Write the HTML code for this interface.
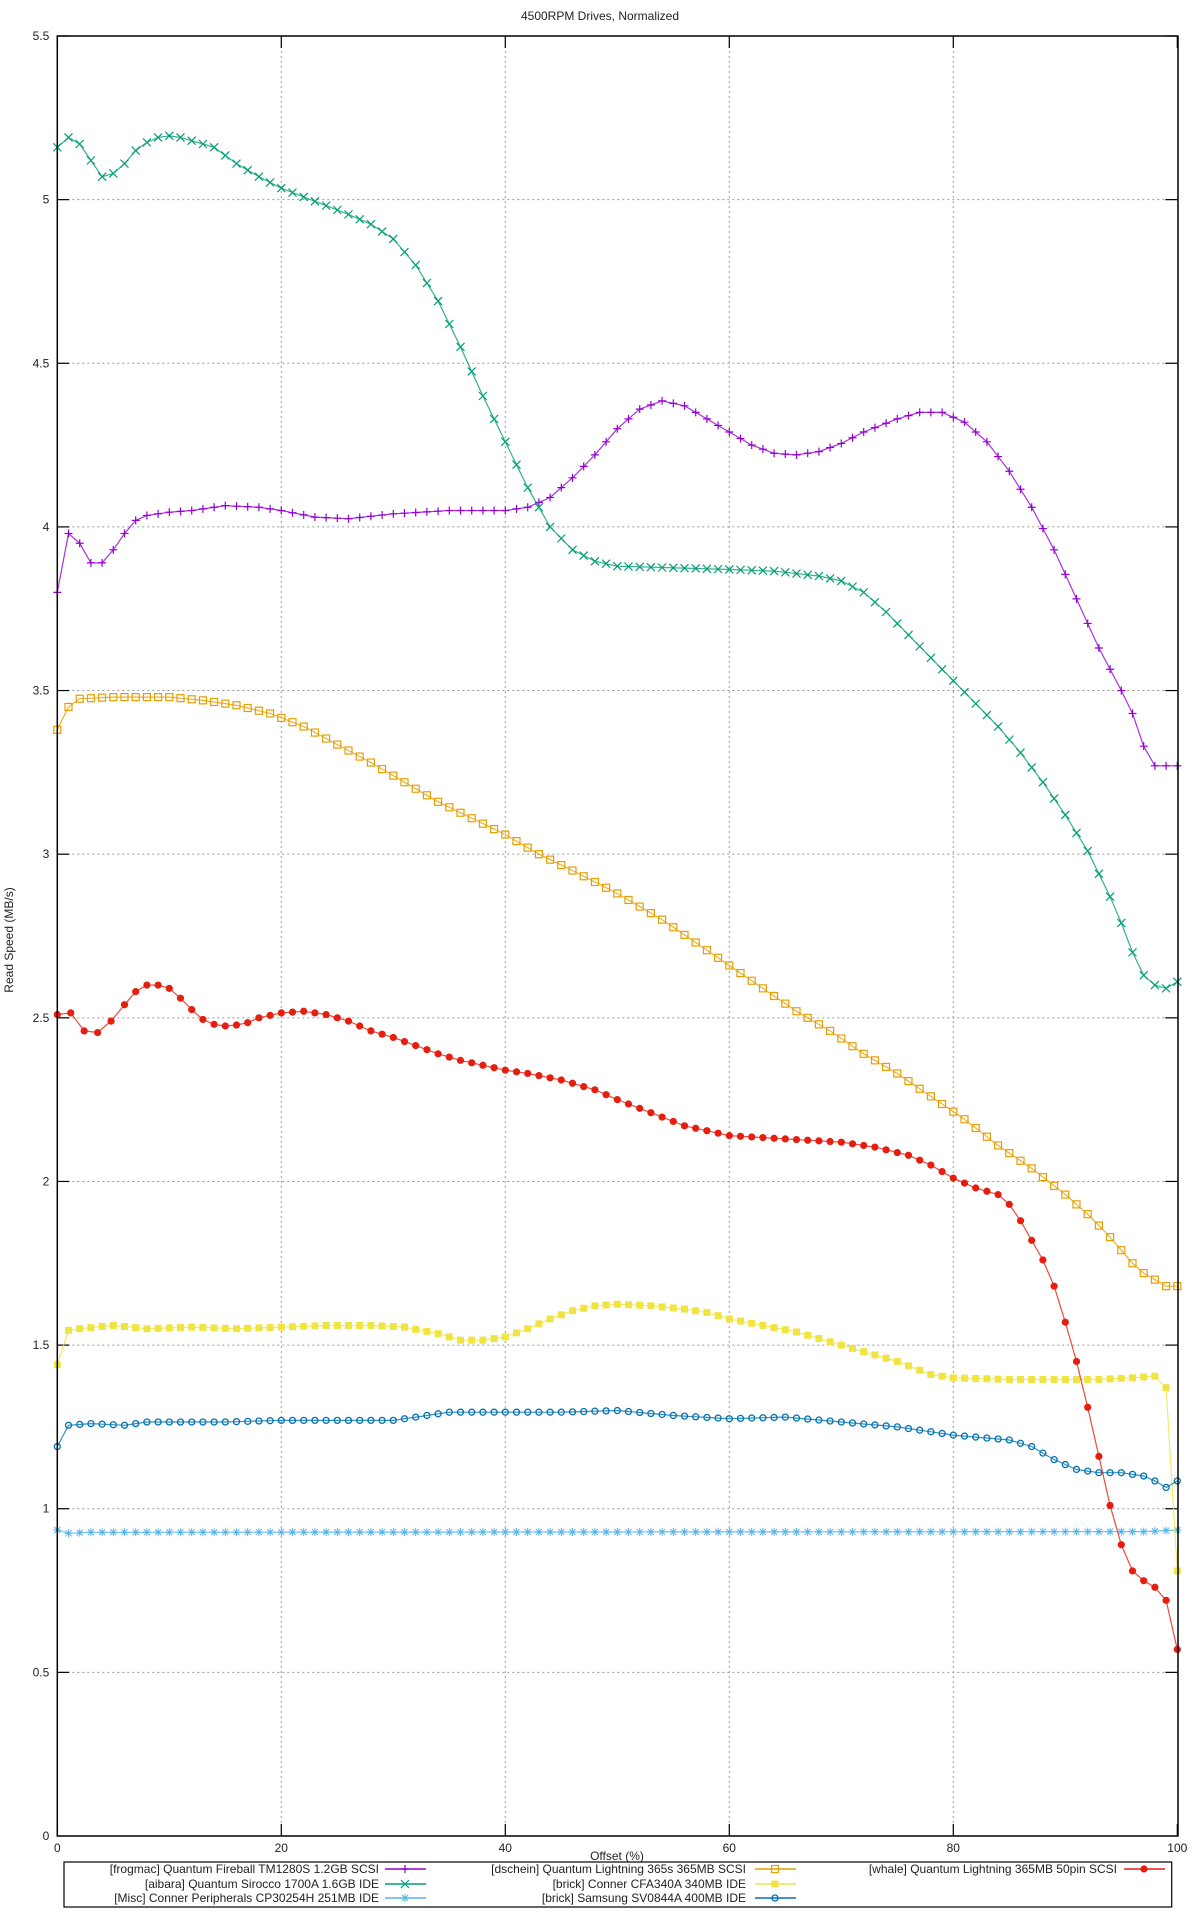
<!DOCTYPE html>
<html><head><meta charset="utf-8"><style>
html,body{margin:0;padding:0;background:#fff;}
svg{display:block;font-family:"Liberation Sans",sans-serif;}
</style></head><body>
<svg id="s" width="1200" height="1920" viewBox="0 0 1200 1920" xmlns="http://www.w3.org/2000/svg">
<rect width="1200" height="1920" fill="#fff"/>
<text x="600" y="20" font-size="12" text-anchor="middle" fill="#222">4500RPM Drives, Normalized</text>
<text transform="translate(13,940) rotate(-90)" font-size="12" text-anchor="middle" fill="#222">Read Speed (MB/s)</text>
<g id="grid"></g>
<g id="series"></g>
<rect x="57.3" y="36" width="1120.7" height="1800" fill="none" stroke="#000" stroke-width="1.5"/>
<text x="617" y="1860" font-size="12" text-anchor="middle" fill="#222">Offset (%)</text>
<rect x="64" y="1862" width="1107.7" height="45" fill="none" stroke="#000" stroke-width="1.2"/>
<g id="legend" font-size="12" fill="#222"></g>
</svg>
<script>
var NS="http://www.w3.org/2000/svg";
var L=57.3,R=1177.3,T=36,B=1836;
function X(v){return L+v*(R-L)/100;}
function Y(v){return B-v*(B-T)/5.5;}
function el(t,a,p){var e=document.createElementNS(NS,t);for(var k in a)e.setAttribute(k,a[k]);(p||document.getElementById('series')).appendChild(e);return e;}
var g=document.getElementById('grid');
for(var i=1;i<=11;i++){var v=i*0.5,y=Y(v);
 if(i<11)el('line',{x1:L,x2:R,y1:y,y2:y,stroke:'#999','stroke-dasharray':'2,3','stroke-width':1},g);
 el('line',{x1:L,x2:L+12,y1:y,y2:y,stroke:'#000','stroke-width':1.2},g);
 el('line',{x1:R,x2:R-12,y1:y,y2:y,stroke:'#000','stroke-width':1.2},g);}
for(var i=0;i<=11;i++){var t=el('text',{x:L-8,y:Y(i*0.5)+4,'font-size':12,'text-anchor':'end',fill:'#222'},g);t.textContent=(i*0.5)+'';}
for(var i=0;i<=5;i++){var x=X(i*20);
 if(i>0&&i<5)el('line',{x1:x,x2:x,y1:T,y2:B,stroke:'#999','stroke-dasharray':'2,3','stroke-width':1},g);
 el('line',{x1:x,x2:x,y1:B,y2:B-12,stroke:'#000','stroke-width':1.2},g);
 el('line',{x1:x,x2:x,y1:T,y2:T+12,stroke:'#000','stroke-width':1.2},g);
 var t=el('text',{x:x,y:B+16,'font-size':12,'text-anchor':'middle',fill:'#222'},g);t.textContent=(i*20)+'';}
function interp(c,x){for(var i=0;i<c.length-1;i+=2){}var pts=[];for(var i=0;i<c.length;i+=2)pts.push([c[i],c[i+1]]);
 for(var i=0;i<pts.length-1;i++){if(x>=pts[i][0]&&x<=pts[i+1][0]){var a=pts[i],b=pts[i+1];return a[1]+(b[1]-a[1])*(x-a[0])/(b[0]-a[0]);}}return pts[pts.length-1][1];}
function marker(type,col,x,y,p){
 if(type=='+'){el('path',{d:'M'+(x-4)+' '+y+'h8M'+x+' '+(y-4)+'v8',stroke:col,'stroke-width':1.2,fill:'none'},p);}
 else if(type=='x'){el('path',{d:'M'+(x-4)+' '+(y-4)+'l8 8M'+(x-4)+' '+(y+4)+'l8 -8',stroke:col,'stroke-width':1.2,fill:'none'},p);}
 else if(type=='*'){el('path',{d:'M'+(x-4)+' '+y+'h8M'+x+' '+(y-4)+'v8M'+(x-3)+' '+(y-3)+'l6 6M'+(x-3)+' '+(y+3)+'l6 -6',stroke:col,'stroke-width':1,fill:'none'},p);}
 else if(type=='os'){el('rect',{x:x-3.5,y:y-3.5,width:7,height:7,stroke:col,'stroke-width':1.2,fill:'none'},p);}
 else if(type=='fs'){el('rect',{x:x-3.5,y:y-3.5,width:7,height:7,fill:col},p);}
 else if(type=='oc'){el('circle',{cx:x,cy:y,r:3,stroke:col,'stroke-width':1.3,fill:'none'},p);}
 else if(type=='fc'){el('circle',{cx:x,cy:y,r:3.6,fill:col},p);}
}
var S=[
{c:'#9400d3',m:'+',n:'[frogmac] Quantum Fireball TM1280S 1.2GB SCSI',d:[0,3.8,1,3.98,2,3.95,3,3.89,4,3.89,5,3.93,6,3.98,7,4.02,8,4.035,10,4.045,12,4.05,15,4.065,18,4.06,20,4.05,23,4.03,26,4.025,30,4.04,35,4.05,40,4.05,42,4.06,44,4.09,46,4.15,48,4.22,50,4.3,52,4.36,54,4.385,56,4.37,58,4.33,60,4.29,62,4.25,64,4.225,66,4.22,68,4.23,70,4.255,72,4.29,75,4.33,77,4.35,79,4.35,81,4.32,83,4.26,85,4.17,87,4.06,89,3.93,91,3.78,93,3.63,95,3.5,96,3.43,97,3.33,98,3.27,100,3.27]},
{c:'#009e73',m:'x',n:'[aibara] Quantum Sirocco 1700A 1.6GB IDE',d:[0,5.16,1,5.19,2,5.17,3,5.12,4,5.07,5,5.08,6,5.11,7,5.15,8,5.175,9,5.19,10,5.195,11,5.19,12,5.18,14,5.16,16,5.11,18,5.07,20,5.035,23,4.995,26,4.955,28,4.925,30,4.88,32,4.8,34,4.69,36,4.55,38,4.4,40,4.26,42,4.12,44,4.0,46,3.93,48,3.895,50,3.88,55,3.875,60,3.87,64,3.865,68,3.85,70,3.835,72,3.8,74,3.74,76,3.67,78,3.6,80,3.53,82,3.46,84,3.39,86,3.31,88,3.22,90,3.12,92,3.01,94,2.87,95,2.79,96,2.7,97,2.63,98,2.6,99,2.59,100,2.61]},
{c:'#56b4e9',m:'*',n:'[Misc] Conner Peripherals CP30254H 251MB IDE',d:[0,0.935,1,0.925,3,0.928,97,0.93,100,0.935]},
{c:'#e69f00',m:'os',n:'[dschein] Quantum Lightning 365s 365MB SCSI',d:[0,3.38,1,3.45,2,3.475,5,3.48,10,3.48,13,3.47,16,3.455,19,3.43,22,3.39,25,3.335,28,3.28,31,3.22,34,3.16,37,3.11,40,3.06,43,3.0,46,2.95,50,2.88,54,2.8,57,2.73,60,2.66,63,2.59,66,2.52,69,2.46,72,2.39,75,2.33,78,2.26,81,2.19,84,2.11,87,2.04,90,1.96,92,1.9,94,1.83,95,1.79,96,1.75,97,1.72,98,1.7,99,1.68,100,1.68]},
{c:'#f0e442',m:'fs',n:'[brick] Conner CFA340A 340MB IDE',d:[0,1.44,1,1.545,2,1.55,5,1.56,8,1.55,12,1.555,16,1.55,20,1.555,24,1.56,28,1.56,31,1.555,34,1.535,36,1.515,38,1.515,40,1.525,42,1.55,44,1.58,46,1.605,48,1.62,50,1.625,53,1.62,56,1.61,58,1.6,60,1.58,63,1.56,66,1.54,69,1.51,72,1.48,75,1.45,78,1.41,80,1.4,85,1.395,90,1.395,93,1.395,96,1.4,98,1.405,99,1.37,100,0.81]},
{c:'#0072b2',m:'oc',n:'[brick] Samsung SV0844A 400MB IDE',d:[0,1.19,1,1.255,3,1.26,6,1.255,8,1.265,15,1.265,20,1.27,25,1.27,30,1.27,33,1.285,35,1.295,40,1.295,45,1.295,50,1.3,55,1.285,60,1.275,65,1.28,70,1.265,75,1.25,80,1.225,85,1.21,87,1.19,89,1.15,91,1.12,93,1.11,95,1.11,97,1.1,98,1.085,99,1.065,100,1.085]},
{c:'#e51e10',m:'fc',n:'[whale] Quantum Lightning 365MB 50pin SCSI',step:1.2,d:[0,2.51,1.2,2.515,2.4,2.46,3.6,2.455,4.8,2.49,6,2.54,7,2.58,8,2.6,9,2.6,10,2.59,11,2.56,12,2.525,13,2.495,14,2.48,15,2.475,16,2.478,17,2.485,18,2.5,20,2.515,22,2.52,24,2.51,26,2.49,28,2.46,30,2.44,32,2.415,34,2.39,36,2.37,38,2.355,40,2.34,42,2.33,45,2.31,48,2.28,50,2.25,53,2.21,56,2.17,58,2.155,60,2.14,65,2.13,70,2.12,73,2.105,76,2.08,78,2.05,80,2.01,82,1.98,84,1.96,85,1.93,86,1.88,87,1.82,88,1.76,89,1.68,90,1.57,91,1.45,92,1.31,93,1.16,94,1.01,95,0.89,96,0.81,97,0.78,98,0.76,99,0.72,100,0.57]}
];
var ser=document.getElementById('series');
S.forEach(function(s){
 var xs=[];
 if(s.step){for(var i=0;i<=6;i++)xs.push(s.d[i*2]);for(var x=8;x<=100;x++)xs.push(x);}
 else for(var x=0;x<=100;x++)xs.push(x);
 var pts=xs.map(function(x){return [X(x),Y(interp(s.d,x))];});
 el('polyline',{points:pts.map(function(p){return p[0].toFixed(1)+','+p[1].toFixed(1);}).join(' '),fill:'none',stroke:s.c,'stroke-width':1.2,'stroke-opacity':0.8},ser);
 pts.forEach(function(p){marker(s.m,s.c,p[0],p[1],ser);});
});
var lg=document.getElementById('legend');
var cols=[[379,385],[746,755],[1117,1124]],rows=[1869,1884,1898];
var order=[[0,0,0],[0,1,1],[0,2,2],[1,0,3],[1,1,4],[1,2,5],[2,0,6]];
order.forEach(function(o){var c=cols[o[0]],y=rows[o[1]],s=S[o[2]];
 var t=el('text',{x:c[0],y:y+4,'text-anchor':'end','font-size':12,fill:'#222'},lg);t.textContent=s.n;
 el('line',{x1:c[1],x2:c[1]+41,y1:y,y2:y,stroke:s.c,'stroke-width':1.5},lg);
 marker(s.m,s.c,c[1]+20,y,lg);});
</script>
</body></html>
